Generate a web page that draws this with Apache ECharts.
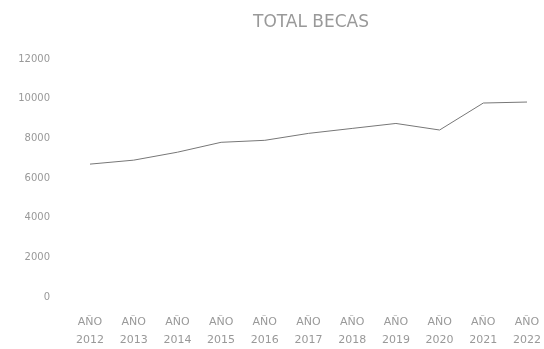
<!DOCTYPE html>
<html><head><meta charset="utf-8">
<script src="https://cdn.jsdelivr.net/npm/echarts@6/dist/echarts.min.js"></script>
<style>html,body{margin:0;padding:0;background:#fff}#c{width:544px;height:349px}</style>
</head><body><div id="c"></div>
<script>
const categories = ['AÑO\n2012','AÑO\n2013','AÑO\n2014','AÑO\n2015','AÑO\n2016','AÑO\n2017','AÑO\n2018','AÑO\n2019','AÑO\n2020','AÑO\n2021','AÑO\n2022'];
const totalBecas = [6700, 6900, 7300, 7800, 7900, 8250, 8500, 8750, 8420, 9780, 9830];
const chart = echarts.init(document.getElementById('c'));
chart.setOption({
  animation: false,
  title: { text: 'TOTAL BECAS', left: 248, top: 9,
    textStyle: { fontFamily: 'DejaVu Sans', fontWeight: 'normal', fontSize: 17, color: '#999' } },
  grid: { left: 90, right: 16, top: 59, bottom: 52 },
  xAxis: { type: 'category', data: categories, boundaryGap: false,
    axisLine: { show: false }, axisTick: { show: false },
    axisLabel: { color: '#999', fontSize: 11, fontFamily: 'DejaVu Sans', margin: 16, lineHeight: 18 } },
  yAxis: { type: 'value', min: 0, max: 12000, interval: 2000,
    splitLine: { show: false }, axisLine: { show: false }, axisTick: { show: false },
    axisLabel: { color: '#999', fontSize: 10, fontFamily: 'DejaVu Sans', margin: 40,
      formatter: function (v) { return String(v); } } },
  series: [{ type: 'line', data: totalBecas, symbol: 'none',
    lineStyle: { color: '#777', width: 1 } }]
});
</script></body></html>
